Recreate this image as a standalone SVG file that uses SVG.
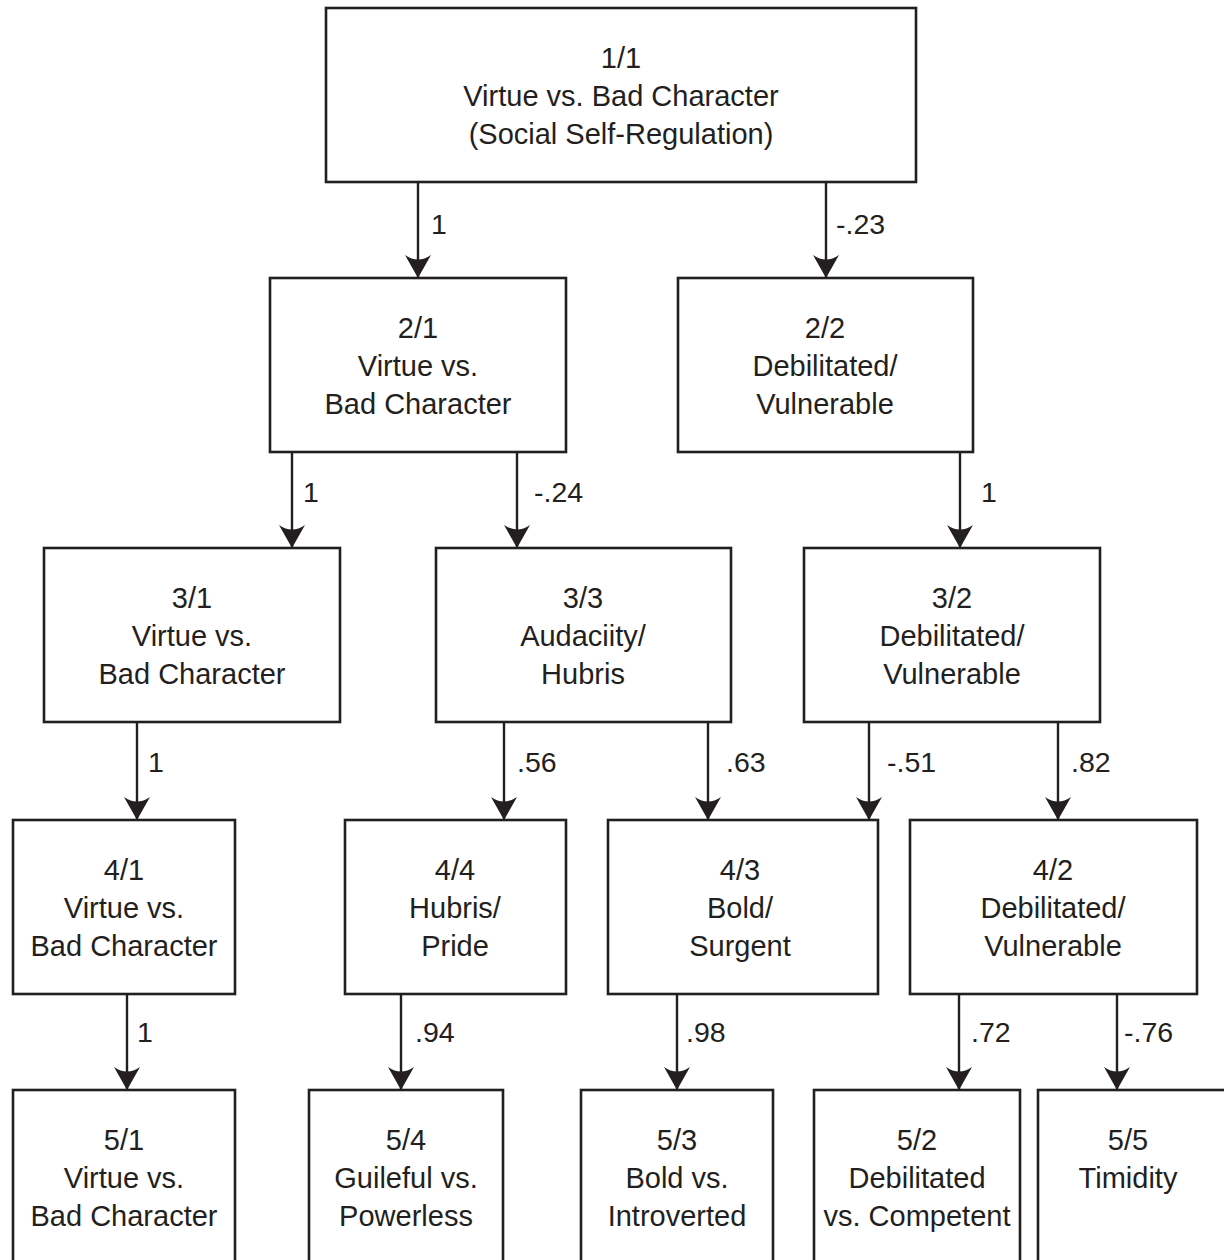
<svg xmlns="http://www.w3.org/2000/svg" width="1224" height="1260" viewBox="0 0 1224 1260">
<style>
.box{fill:#ffffff;stroke:#231f20;stroke-width:2.6}
.t{font-family:"Liberation Sans",Arial,sans-serif;font-size:29px;fill:#231f20;text-anchor:middle}
.l{font-family:"Liberation Sans",Arial,sans-serif;font-size:28.5px;fill:#231f20}
.c{stroke:#231f20;stroke-width:2.4;fill:none;marker-end:url(#ah)}
</style>
<defs>
<marker id="ah" markerUnits="userSpaceOnUse" markerWidth="28" markerHeight="25" viewBox="-14 -24 28 25" refX="0" refY="0" orient="0">
<path d="M0,0 L-13,-23 Q0,-14 13,-23 Z" fill="#231f20"/>
</marker>
</defs>
<rect width="1224" height="1260" fill="#ffffff"/>
<g id="connectors">
<line class="c" x1="418" y1="182" x2="418" y2="278"/>
<line class="c" x1="826" y1="182" x2="826" y2="278"/>
<line class="c" x1="292" y1="452" x2="292" y2="548"/>
<line class="c" x1="517" y1="452" x2="517" y2="548"/>
<line class="c" x1="960" y1="452" x2="960" y2="548"/>
<line class="c" x1="137" y1="722" x2="137" y2="820"/>
<line class="c" x1="504" y1="722" x2="504" y2="820"/>
<line class="c" x1="708" y1="722" x2="708" y2="820"/>
<line class="c" x1="869" y1="722" x2="869" y2="820"/>
<line class="c" x1="1058" y1="722" x2="1058" y2="820"/>
<line class="c" x1="127" y1="994" x2="127" y2="1090"/>
<line class="c" x1="401" y1="994" x2="401" y2="1090"/>
<line class="c" x1="677" y1="994" x2="677" y2="1090"/>
<line class="c" x1="959" y1="994" x2="959" y2="1090"/>
<line class="c" x1="1117" y1="994" x2="1117" y2="1090"/>
<text class="l" x="431" y="234">1</text>
<text class="l" x="836" y="234">-.23</text>
<text class="l" x="303" y="502">1</text>
<text class="l" x="534" y="502">-.24</text>
<text class="l" x="981" y="502">1</text>
<text class="l" x="148" y="772">1</text>
<text class="l" x="517" y="772">.56</text>
<text class="l" x="726" y="772">.63</text>
<text class="l" x="887" y="772">-.51</text>
<text class="l" x="1071" y="772">.82</text>
<text class="l" x="137" y="1042">1</text>
<text class="l" x="415" y="1042">.94</text>
<text class="l" x="686" y="1042">.98</text>
<text class="l" x="971" y="1042">.72</text>
<text class="l" x="1124" y="1042">-.76</text>
</g>
<g id="n11"><rect class="box" x="326" y="8" width="590" height="174"/>
<text class="t" x="621" y="68">1/1</text><text class="t" x="621" y="106">Virtue vs. Bad Character</text><text class="t" x="621" y="144">(Social Self-Regulation)</text></g>
<g id="n21"><rect class="box" x="270" y="278" width="296" height="174"/>
<text class="t" x="418" y="338">2/1</text><text class="t" x="418" y="376">Virtue vs.</text><text class="t" x="418" y="414">Bad Character</text></g>
<g id="n22"><rect class="box" x="678" y="278" width="295" height="174"/>
<text class="t" x="825" y="338">2/2</text><text class="t" x="825" y="376">Debilitated/</text><text class="t" x="825" y="414">Vulnerable</text></g>
<g id="n31"><rect class="box" x="44" y="548" width="296" height="174"/>
<text class="t" x="192" y="608">3/1</text><text class="t" x="192" y="646">Virtue vs.</text><text class="t" x="192" y="684">Bad Character</text></g>
<g id="n33"><rect class="box" x="436" y="548" width="295" height="174"/>
<text class="t" x="583" y="608">3/3</text><text class="t" x="583" y="646">Audaciity/</text><text class="t" x="583" y="684">Hubris</text></g>
<g id="n32"><rect class="box" x="804" y="548" width="296" height="174"/>
<text class="t" x="952" y="608">3/2</text><text class="t" x="952" y="646">Debilitated/</text><text class="t" x="952" y="684">Vulnerable</text></g>
<g id="n41"><rect class="box" x="13" y="820" width="222" height="174"/>
<text class="t" x="124" y="880">4/1</text><text class="t" x="124" y="918">Virtue vs.</text><text class="t" x="124" y="956">Bad Character</text></g>
<g id="n44"><rect class="box" x="345" y="820" width="221" height="174"/>
<text class="t" x="455" y="880">4/4</text><text class="t" x="455" y="918">Hubris/</text><text class="t" x="455" y="956">Pride</text></g>
<g id="n43"><rect class="box" x="608" y="820" width="270" height="174"/>
<text class="t" x="740" y="880">4/3</text><text class="t" x="740" y="918">Bold/</text><text class="t" x="740" y="956">Surgent</text></g>
<g id="n42"><rect class="box" x="910" y="820" width="287" height="174"/>
<text class="t" x="1053" y="880">4/2</text><text class="t" x="1053" y="918">Debilitated/</text><text class="t" x="1053" y="956">Vulnerable</text></g>
<g id="n51"><rect class="box" x="13" y="1090" width="222" height="200"/>
<text class="t" x="124" y="1150">5/1</text><text class="t" x="124" y="1188">Virtue vs.</text><text class="t" x="124" y="1226">Bad Character</text></g>
<g id="n54"><rect class="box" x="309" y="1090" width="194" height="200"/>
<text class="t" x="406" y="1150">5/4</text><text class="t" x="406" y="1188">Guileful vs.</text><text class="t" x="406" y="1226">Powerless</text></g>
<g id="n53"><rect class="box" x="581" y="1090" width="192" height="200"/>
<text class="t" x="677" y="1150">5/3</text><text class="t" x="677" y="1188">Bold vs.</text><text class="t" x="677" y="1226">Introverted</text></g>
<g id="n52"><rect class="box" x="814" y="1090" width="206" height="200"/>
<text class="t" x="917" y="1150">5/2</text><text class="t" x="917" y="1188">Debilitated</text><text class="t" x="917" y="1226">vs. Competent</text></g>
<g id="n55"><rect class="box" x="1038" y="1090" width="250" height="200"/>
<text class="t" x="1128" y="1150">5/5</text><text class="t" x="1128" y="1188">Timidity</text></g>
</svg>
